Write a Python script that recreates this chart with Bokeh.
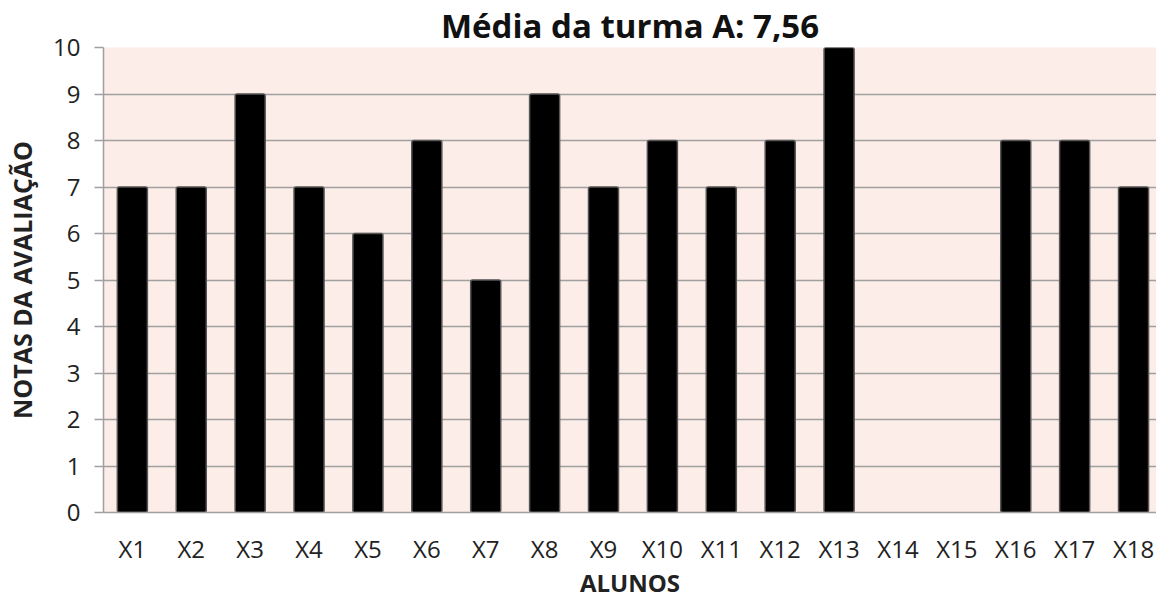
from bokeh.plotting import figure
from bokeh.models import Range1d, FixedTicker, ColumnDataSource
from bokeh.embed import file_html
from bokeh.resources import INLINE

alunos = ["X1", "X2", "X3", "X4", "X5", "X6", "X7", "X8", "X9", "X10",
          "X11", "X12", "X13", "X14", "X15", "X16", "X17", "X18"]
# X14 and X15 have no bar in the reference (no grade)
notas = [7, 7, 9, 7, 6, 8, 5, 9, 7, 8, 7, 8, 10, None, None, 8, 8, 7]
y_ticks = [0, 1, 2, 3, 4, 5, 6, 7, 8, 9, 10]
titulo = "Média da turma A: 7,56"

pos = list(range(1, len(alunos) + 1))
src = ColumnDataSource(dict(x=pos, nota=[float("nan") if v is None else v for v in notas]))

p = figure(width=1156, height=601, output_backend="svg", toolbar_location=None,
           x_range=Range1d(0.51, 18.39), y_range=Range1d(0, 10),
           min_border_left=103, min_border_right=0, min_border_bottom=89,
           min_border_top=46)

p.title.text = titulo
p.title.align = "center"
p.title.text_font = "Open Sans"
p.title.text_font_size = "33px"
p.title.text_font_style = "bold"
p.title.text_color = "#111111"
p.title.offset = 0
p.title.standoff = 0

p.background_fill_color = "#FCEDE8"
p.border_fill_color = "white"
p.outline_line_color = None

p.vbar(x="x", top="nota", width=0.51, source=src, fill_color="black",
       line_color="#555555", line_width=1.5, border_radius=2)

p.xaxis.ticker = FixedTicker(ticks=pos)
p.xaxis.major_label_overrides = {i: a for i, a in zip(pos, alunos)}
p.xaxis.major_tick_line_color = None
p.xaxis.minor_tick_line_color = None
p.xaxis.axis_line_color = "#A0A0A0"
p.xaxis.axis_line_width = 1.5
p.xaxis.major_label_text_font = "Open Sans"
p.xaxis.major_label_text_font_size = "24px"
p.xaxis.major_label_text_color = "#222222"
p.xaxis.major_label_text_line_height = 1.0
p.xaxis.major_label_standoff = 13
p.xaxis.axis_label = "ALUNOS"
p.xaxis.axis_label_text_font = "Open Sans"
p.xaxis.axis_label_text_font_size = "24px"
p.xaxis.axis_label_text_font_style = "bold"
p.xaxis.axis_label_text_color = "#222222"
p.xaxis.axis_label_text_line_height = 1.0
p.xaxis.axis_label_standoff = -2

p.yaxis.ticker = FixedTicker(ticks=y_ticks)
p.yaxis.minor_tick_line_color = None
p.yaxis.major_tick_out = 9
p.yaxis.major_tick_in = 0
p.yaxis.major_tick_line_color = "#A0A0A0"
p.yaxis.major_tick_line_width = 1.5
p.yaxis.axis_line_color = "#A0A0A0"
p.yaxis.axis_line_width = 1.5
p.yaxis.major_label_text_font = "Open Sans"
p.yaxis.major_label_text_font_size = "24px"
p.yaxis.major_label_text_color = "#222222"
p.yaxis.major_label_standoff = 14
p.yaxis.axis_label = "NOTAS DA AVALIAÇÃO"
p.yaxis.axis_label_text_font = "Open Sans"
p.yaxis.axis_label_text_font_size = "25px"
p.yaxis.axis_label_text_font_style = "bold"
p.yaxis.axis_label_text_color = "#222222"
p.yaxis.axis_label_standoff = 11

p.xgrid.grid_line_color = None
p.ygrid.grid_line_color = "#A0A0A0"
p.ygrid.grid_line_width = 1.5

open("out.html", "w").write(file_html(p, INLINE))
